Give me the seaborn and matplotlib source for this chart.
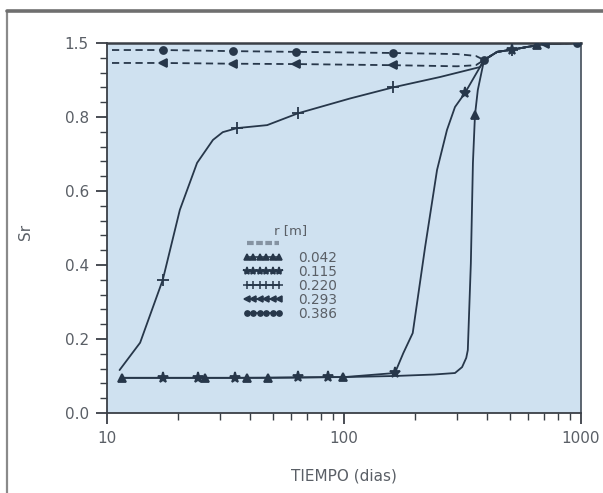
import numpy as np
import pandas as pd
import matplotlib
matplotlib.use("Agg")
import matplotlib.pyplot as plt
from matplotlib.lines import Line2D
from matplotlib.ticker import FixedLocator, MultipleLocator, LogLocator, NullFormatter
import seaborn as sns

# ---------------- data ----------------
radii = ["0.042", "0.115", "0.220", "0.293", "0.386"]

t_042 = [11.6, 17.2, 25.9, 39, 47.7, 64, 99, 164, 240, 294, 315, 328, 333, 343, 350, 357, 367, 390, 443, 512, 692, 980]
sr_042 = [0.095, 0.095, 0.095, 0.095, 0.095, 0.096, 0.097, 0.100, 0.104, 0.108, 0.124, 0.149, 0.170, 0.405, 0.676, 0.805, 0.873, 0.954, 0.976, 0.982, 0.997, 1.0]

t_115 = [11.6, 17.2, 24.2, 34.7, 64, 85.5, 100, 164, 178, 195, 220, 247, 272, 294, 324, 390, 443, 512, 692, 980]
sr_115 = [0.095, 0.095, 0.095, 0.095, 0.096, 0.097, 0.097, 0.108, 0.162, 0.216, 0.449, 0.657, 0.765, 0.827, 0.865, 0.954, 0.976, 0.982, 0.997, 1.0]

t_220 = [11.3, 13.8, 17.2, 20.3, 24.0, 28.0, 30.8, 35.4, 47.4, 64.0, 106, 161, 254, 375, 390, 443, 512, 692, 980]
sr_220 = [0.116, 0.19, 0.36, 0.549, 0.676, 0.738, 0.759, 0.77, 0.778, 0.81, 0.85, 0.88, 0.908, 0.935, 0.954, 0.976, 0.982, 0.997, 1.0]

t_293 = [10.5, 17.2, 33.9, 63, 161, 300, 360, 390, 443, 512, 705, 980]
sr_293 = [0.946, 0.946, 0.944, 0.943, 0.940, 0.937, 0.940, 0.954, 0.976, 0.982, 0.997, 1.0]

t_386 = [10.5, 17.2, 33.9, 63, 161, 300, 360, 390, 443, 512, 692, 962]
sr_386 = [0.981, 0.981, 0.978, 0.976, 0.973, 0.970, 0.965, 0.954, 0.976, 0.982, 0.997, 1.0]

# sampled points carrying symbols
mt_042 = [11.6, 25.9, 39.0, 47.7, 99, 357, 650]
msr_042 = [0.095, 0.095, 0.095, 0.095, 0.097, 0.805, 0.995]
mt_115 = [17.2, 24.2, 34.7, 64.0, 85.5, 164, 324, 512]
msr_115 = [0.095, 0.095, 0.095, 0.096, 0.097, 0.108, 0.865, 0.982]
mt_220 = [17.2, 35.4, 64.0, 161, 512]
msr_220 = [0.36, 0.77, 0.81, 0.88, 0.982]
mt_293 = [17.2, 33.9, 63, 161, 705]
msr_293 = [0.946, 0.944, 0.943, 0.940, 0.997]
mt_386 = [17.2, 33.9, 63, 161, 390, 962]
msr_386 = [0.981, 0.978, 0.976, 0.973, 0.954, 1.0]

x_ticks = [10, 100, 1000]
x_tick_labels = ["10", "100", "1000"]
y_ticks = [0.0, 0.2, 0.4, 0.6, 0.8, 1.0]
y_tick_labels = ["0.0", "0.2", "0.4", "0.6", "0.8", "1.5"]

# ---------------- build tables ----------------
curves = {"0.042": (t_042, sr_042), "0.115": (t_115, sr_115), "0.220": (t_220, sr_220),
          "0.293": (t_293, sr_293), "0.386": (t_386, sr_386)}
samples = {"0.042": (mt_042, msr_042), "0.115": (mt_115, msr_115), "0.220": (mt_220, msr_220),
           "0.293": (mt_293, msr_293), "0.386": (mt_386, msr_386)}
df = pd.concat([pd.DataFrame({"t": v[0], "sr": v[1], "r": k}) for k, v in curves.items()],
               ignore_index=True)

# ---------------- style ----------------
sns.set_style("ticks")
plt.rcParams["font.family"] = ["DejaVu Sans"]
line_c = "#27374a"
text_c = "#5a5f66"
spine_c = "#3a3f46"
face_c = "#cfe1f0"

markers = {"0.042": "^", "0.115": "*", "0.220": "+", "0.293": "<", "0.386": "o"}
msizes = {"0.042": 5.5, "0.115": 8, "0.220": 8, "0.293": 5.5, "0.386": 5}
dashes = {"0.042": "", "0.115": "", "0.220": "", "0.293": (4, 2.5), "0.386": (4, 2.5)}

fig = plt.figure(figsize=(6.03, 4.93), dpi=100)
fig.patch.set_facecolor("white")
ax = fig.add_axes([0.1774, 0.1623, 0.7861, 0.7505])
ax.set_facecolor(face_c)
ax.set_xscale("log")

sns.lineplot(data=df, x="t", y="sr", hue="r", style="r",
             palette={r: line_c for r in radii}, dashes=dashes,
             estimator=None, sort=False, legend=False, lw=1.3, ax=ax)

for r in radii:
    mx, my = samples[r]
    ax.plot(mx, my, ls="none", marker=markers[r], ms=msizes[r], color=line_c,
            mew=1.3, zorder=4)

ax.set_xlim(10, 1000)
ax.set_ylim(0, 1.0)
ax.xaxis.set_major_locator(FixedLocator(x_ticks))
ax.set_xticklabels(x_tick_labels)
ax.xaxis.set_minor_locator(LogLocator(base=10, subs=np.arange(2, 10)))
ax.xaxis.set_minor_formatter(NullFormatter())
ax.yaxis.set_major_locator(FixedLocator(y_ticks))
ax.set_yticklabels(y_tick_labels)
ax.yaxis.set_minor_locator(MultipleLocator(0.04))

ax.tick_params(axis="both", which="major", direction="out", length=8, width=1.3,
               color=spine_c, labelsize=11, labelcolor=text_c, pad=5)
ax.tick_params(axis="both", which="minor", direction="out", length=5, width=1.0,
               color=spine_c)

for s in ax.spines.values():
    s.set_color(spine_c)
    s.set_linewidth(1.3)
ax.spines["top"].set_linewidth(1.8)
ax.spines["right"].set_color("#505a66")

ax.set_xlabel("TIEMPO (dias)", fontsize=11, color=text_c)
ax.set_ylabel("Sr", fontsize=11, color=text_c)
ax.xaxis.set_label_coords(0.5, -0.15)
ax.yaxis.set_label_coords(-0.155, 0.49)

# ---------------- legend ----------------
sep = Line2D([], [], color="#8593a2", ls=(0, (1.6, 0.6)), lw=3)
handles = [sep] + [Line2D([], [], color=line_c, lw=1.2, marker=markers[r],
                          ms=msizes[r] * 0.75, mew=1.1) for r in radii]
labels = [" "] + radii
leg = ax.legend(handles=handles, labels=labels, title="r [m]", loc="upper left",
                bbox_to_anchor=(0.272, 0.53), frameon=False, numpoints=6,
                handlelength=3.0, handletextpad=1.1, borderpad=0, labelspacing=0.0,
                prop={"family": "DejaVu Sans", "size": 9.8})
leg.get_title().set_fontsize(9.5)
leg.get_title().set_color(text_c)
for tx in leg.get_texts():
    tx.set_color(text_c)

# ---------------- scan frame ----------------
fig.add_artist(Line2D([0.012, 0.012], [0.0, 0.978], transform=fig.transFigure,
                      color="#8a8a8a", lw=1.6))
fig.add_artist(Line2D([0.012, 1.0], [0.978, 0.978], transform=fig.transFigure,
                      color="#6f6f6f", lw=2.6))

fig.savefig("out.png", dpi=100)
